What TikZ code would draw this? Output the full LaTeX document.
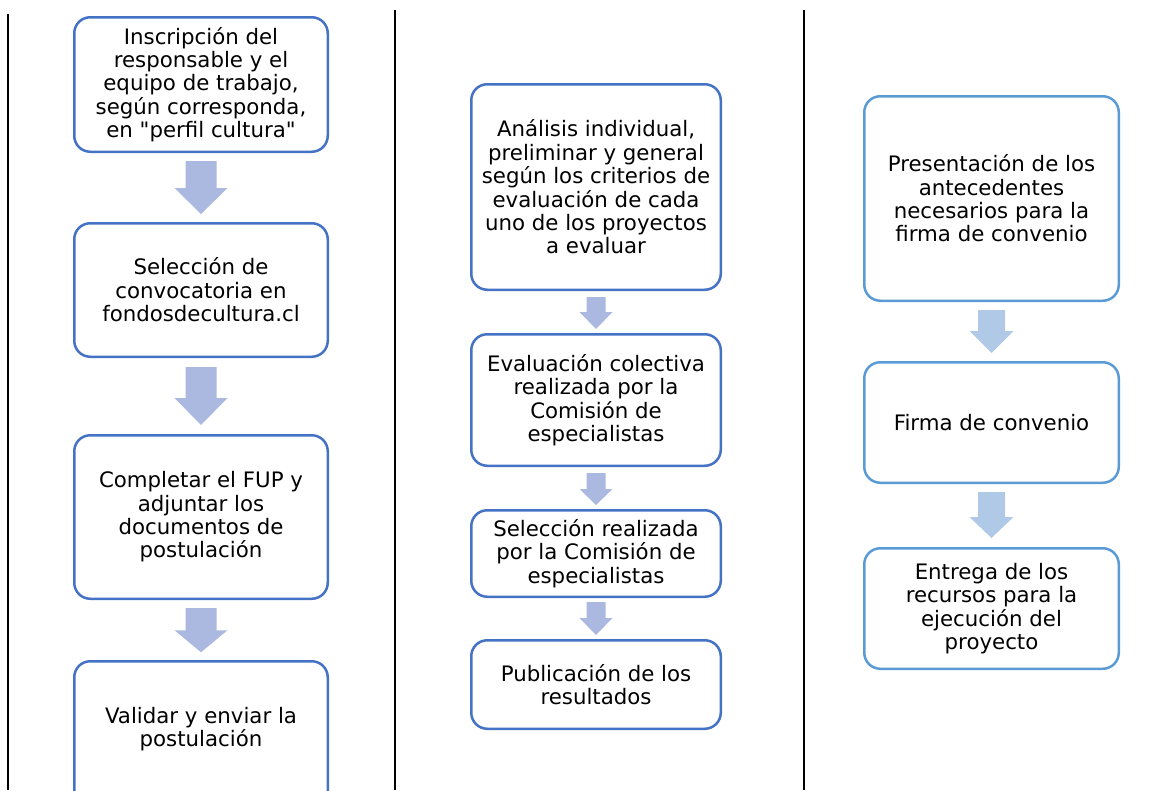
\documentclass[tikz,border=0pt]{standalone}
\usepackage{fontspec}
\setmainfont{DejaVu Sans}[Ligatures=TeXOff]
\usetikzlibrary{calc}
\definecolor{darkblue}{HTML}{4472C4}
\definecolor{lightblue}{HTML}{5B9BD5}
\definecolor{lavender}{HTML}{ABB9E0}
\definecolor{skyblue}{HTML}{AFC9E7}
\newcommand{\boxfont}{\fontsize{21.3}{23.4}\selectfont}
% block arrow: colour, from, to, top gap, bottom gap, half shaft, half head, head length
\newcommand{\blockdown}[8]{%
  \fill[#1] let \p1=(#2.south), \p2=(#3.north) in
    (\x1-#6, \y1-#4) -- (\x1+#6, \y1-#4) --
    (\x1+#6, \y2+#5+#8) -- (\x1+#7, \y2+#5+#8) -- (\x1, \y2+#5) --
    (\x1-#7, \y2+#5+#8) -- (\x1-#6, \y2+#5+#8) -- cycle;}

\begin{document}
\begin{tikzpicture}[x=1pt,y=-1pt,
    stage/.style={draw=darkblue, line width=2.5pt, rounded corners=16pt,
        align=center, inner sep=0pt, font=\boxfont}]

\useasboundingbox (0,0) rectangle (1172,790);
\clip (0,0) rectangle (1172,790);

% table rules
\draw[line width=2pt] (8,14) -- (8,790);
\draw[line width=2pt] (395,10) -- (395,790);
\draw[line width=2pt] (804,10) -- (804,790);

% postulacion
\node[stage, minimum width=253.5pt, minimum height=134.5pt]
    (inscripcion) at (201,84.5)
    {Inscripción del\\responsable y el\\equipo de trabajo,\\según corresponda,\\en "perfil cultura"};
\node[stage, minimum width=253.5pt, minimum height=133.5pt]
    (seleccion) at (201,290)
    {Selección de\\convocatoria en\\fondosdecultura.cl};
\node[stage, minimum width=253.5pt, minimum height=163.5pt]
    (completar) at (201,517)
    {Completar el FUP y\\adjuntar los\\documentos de\\postulación};
% last box runs on below the page
\node[stage, draw=none, outer sep=0pt, minimum width=253.5pt, minimum height=135.5pt]
    (validar) at (201,729)
    {Validar y enviar la\\postulación};
\draw[darkblue, line width=2.5pt, rounded corners=16pt]
    (validar.north west) rectangle ++(253.5,160);
\blockdown{lavender}{inscripcion}{seleccion}{8pt}{8pt}{15.5pt}{26.5pt}{26pt}
\blockdown{lavender}{seleccion}{completar}{9pt}{9pt}{15.5pt}{26.5pt}{27pt}
\blockdown{lavender}{completar}{validar}{8pt}{9pt}{15.5pt}{26.5pt}{22pt}

% evaluacion
\node[stage, minimum width=249.5pt, minimum height=205.5pt]
    (analisis) at (596,187)
    {Análisis individual,\\preliminar y general\\según los criterios de\\evaluación de cada\\uno de los proyectos\\a evaluar};
\node[stage, minimum width=249.5pt, minimum height=131.5pt]
    (colectiva) at (596,400)
    {Evaluación colectiva\\realizada por la\\Comisión de\\especialistas};
\node[stage, minimum width=249.5pt, minimum height=86.5pt]
    (realizada) at (596,553.5)
    {Selección realizada\\por la Comisión de\\especialistas};
\node[stage, minimum width=249.5pt, minimum height=88.5pt]
    (publicacion) at (596,684.5)
    {Publicación de los\\resultados};
\blockdown{lavender}{analisis}{colectiva}{6pt}{4pt}{9.5pt}{16.5pt}{17pt}
\blockdown{lavender}{colectiva}{realizada}{6pt}{4pt}{9.5pt}{16.5pt}{16pt}
\blockdown{lavender}{realizada}{publicacion}{4pt}{4pt}{9.5pt}{16.5pt}{17pt}

% convenio
\node[stage, draw=lightblue, minimum width=254.5pt, minimum height=204.5pt]
    (antecedentes) at (991.5,198.5)
    {Presentación de los\\antecedentes\\necesarios para la\\firma de convenio};
\node[stage, draw=lightblue, minimum width=254.5pt, minimum height=120.5pt]
    (firma) at (991.5,422.5)
    {Firma de convenio};
\node[stage, draw=lightblue, minimum width=254.5pt, minimum height=120.5pt]
    (entrega) at (991.5,608.5)
    {Entrega de los\\recursos para la\\ejecución del\\proyecto};
\blockdown{skyblue}{antecedentes}{firma}{8pt}{8pt}{13.5pt}{22pt}{22pt}
\blockdown{skyblue}{firma}{entrega}{8pt}{9pt}{13.5pt}{22pt}{21pt}

\end{tikzpicture}
\end{document}
